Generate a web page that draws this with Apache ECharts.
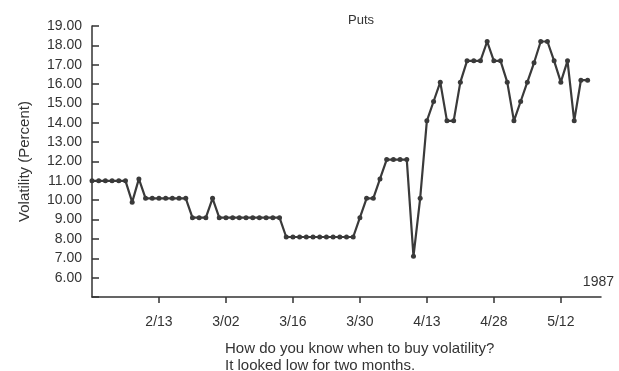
<!DOCTYPE html>
<html>
<head>
<meta charset="utf-8">
<script src="https://cdn.jsdelivr.net/npm/echarts@6/dist/echarts.min.js"></script>
<style>
html,body{margin:0;padding:0;background:#fff;}
#chart{width:619px;height:371px;}
</style>
</head>
<body>
<div id="chart"></div>
<script>
// Trading days, 1987 (index 0 = 1/30)
const dates = [
  "1/30","2/02","2/03","2/04","2/05","2/06","2/09","2/10","2/11","2/12",
  "2/13","2/17","2/18","2/19","2/20","2/23","2/24","2/25","2/26","2/27",
  "3/02","3/03","3/04","3/05","3/06","3/09","3/10","3/11","3/12","3/13",
  "3/16","3/17","3/18","3/19","3/20","3/23","3/24","3/25","3/26","3/27",
  "3/30","3/31","4/01","4/02","4/03","4/06","4/07","4/08","4/09","4/10",
  "4/13","4/14","4/15","4/16","4/20","4/21","4/22","4/23","4/24","4/27",
  "4/28","4/29","4/30","5/01","5/04","5/05","5/06","5/07","5/08","5/11",
  "5/12","5/13","5/14","5/15","5/18","5/19","5/20"
];
// Put implied volatility (percent); last two days have no reading
const putVol = [
  11.0,11.0,11.0,11.0,11.0,11.0,9.9,11.1,10.1,10.1,
  10.1,10.1,10.1,10.1,10.1,9.1,9.1,9.1,10.1,9.1,
  9.1,9.1,9.1,9.1,9.1,9.1,9.1,9.1,9.1,8.1,
  8.1,8.1,8.1,8.1,8.1,8.1,8.1,8.1,8.1,8.1,
  9.1,10.1,10.1,11.1,12.1,12.1,12.1,12.1,7.1,10.1,
  14.1,15.1,16.1,14.1,14.1,16.1,17.2,17.2,17.2,18.2,
  17.2,17.2,16.1,14.1,15.1,16.1,17.1,18.2,18.2,17.2,
  16.1,17.2,14.1,16.2,16.2,null,null
];
const tickLabelEvery = 10;
const yMin = 5, yMax = 19;

const FONT = "'Liberation Sans', Arial, Helvetica, sans-serif";
const INK = '#333';
const chart = echarts.init(document.getElementById('chart'), null, {renderer:'canvas'});
chart.setOption({
  animation:false,
  backgroundColor:'#fff',
  title:{
    text:'Puts', left:356, top:9, textAlign:'center',
    textStyle:{fontFamily:FONT, fontSize:13, fontWeight:'normal', color:INK}
  },
  grid:{left:92, right:18, top:26, bottom:74},
  xAxis:{
    type:'category', data:dates, boundaryGap:false,
    axisLine:{lineStyle:{color:INK, width:1.5}},
    axisTick:{show:true, inside:false, length:6, lineStyle:{color:INK, width:1.5},
      interval:(i)=> i>0 && i%tickLabelEvery===0},
    axisLabel:{interval:(i)=> i>0 && i%tickLabelEvery===0, margin:18,
      fontFamily:FONT, fontSize:14, color:INK},
    splitLine:{show:false}
  },
  yAxis:{
    type:'value', min:yMin, max:yMax, interval:1,
    name:'Volatility (Percent)', nameLocation:'middle', nameGap:60, nameRotate:90,
    nameTextStyle:{fontFamily:FONT, fontSize:15, color:INK},
    axisLine:{show:true, lineStyle:{color:INK, width:1.5}},
    axisTick:{show:true, inside:true, length:7, lineStyle:{color:INK, width:1.5}},
    axisLabel:{margin:10, fontFamily:FONT, fontSize:14, color:INK,
      formatter:(v)=> v===yMin ? '' : v.toFixed(2)},
    splitLine:{show:false}
  },
  series:[{
    type:'line', data:putVol, connectNulls:false,
    symbol:'circle', symbolSize:5, showSymbol:true, showAllSymbol:true,
    lineStyle:{color:'#3a3a3a', width:2.2},
    itemStyle:{color:'#3a3a3a'}
  }],
  graphic:[
    {type:'text', right:5, top:275, style:{text:'1987', font:'14px '+FONT, fill:INK}},
    {type:'text', left:225, top:340, style:{text:'How do you know when to buy volatility?\nIt looked low for two months.', font:'15px '+FONT, fill:INK, lineHeight:17}}
  ]
});
</script>
</body>
</html>
